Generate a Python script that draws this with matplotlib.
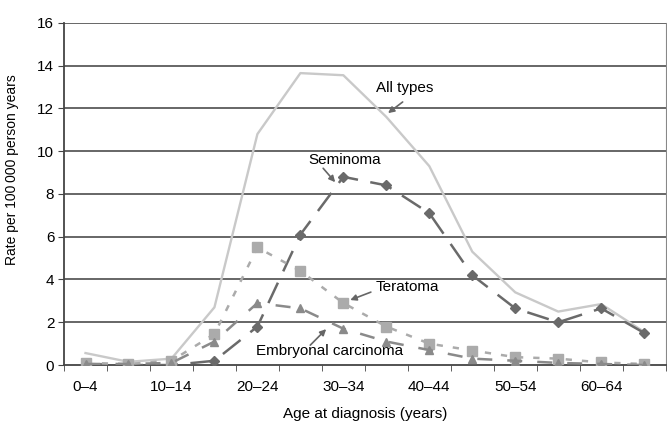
import numpy as np
import matplotlib
matplotlib.use("Agg")
import matplotlib.pyplot as plt

plt.rcParams['font.family'] = ['Liberation Sans', 'DejaVu Sans']

# Data
age_groups = ['0–4', '5–9', '10–14', '15–19', '20–24', '25–29', '30–34',
              '35–39', '40–44', '45–49', '50–54', '55–59', '60–64', '65+']
all_types = [0.56, 0.15, 0.3, 2.7, 10.8, 13.65, 13.55, 11.6, 9.3, 5.3, 3.4, 2.5, 2.85, 1.55]
seminoma = [0.05, 0.0, 0.0, 0.2, 1.8, 6.1, 8.8, 8.4, 7.1, 4.2, 2.65, 2.0, 2.65, 1.5]
teratoma = [0.1, 0.05, 0.2, 1.45, 5.5, 4.4, 2.9, 1.8, 1.0, 0.68, 0.37, 0.3, 0.12, 0.05]
embryonal = [0.05, 0.05, 0.1, 1.1, 2.9, 2.65, 1.7, 1.1, 0.7, 0.3, 0.2, 0.1, 0.05, 0.0]
tick_labels = ['0–4', '10–14', '20–24', '30–34', '40–44', '50–54', '60–64']

x = np.arange(len(age_groups))

fig = plt.figure(figsize=(6.67, 4.23), dpi=100)
ax = fig.add_axes([0.096, 0.137, 0.902, 0.809])

# gridlines
for yv in range(2, 17, 2):
    ax.axhline(yv, color='#5a5a5a', lw=1.3, zorder=1)

ax.plot(x, all_types, color='#c9c9c9', lw=1.7, zorder=3)
ax.plot(x, seminoma, color='#6a6a6a', lw=1.8, dashes=(9, 5),
        marker='D', ms=5, zorder=4)
ax.plot(x, teratoma, color='#ababab', lw=1.8, dashes=(2.5, 4),
        marker='s', ms=7, zorder=4)
ax.plot(x, embryonal, color='#8a8a8a', lw=1.8, dashes=(6, 6),
        marker='^', ms=6, zorder=4)

ax.set_xlim(-0.5, 13.45)
ax.set_ylim(0, 16)
ax.set_yticks(range(0, 17, 2))
ax.set_xticks(x[::2])
ax.set_xticklabels(tick_labels)
ax.set_xticks(np.arange(-0.5, 14, 1), minor=True)
ax.tick_params(axis='x', which='major', length=0, labelsize=11, pad=11)
ax.tick_params(axis='x', which='minor', length=4, color='#444', direction='out')
ax.tick_params(axis='y', length=4, labelsize=11, color='#444', pad=3)

ax.spines['top'].set_visible(False)
ax.spines['right'].set_color('#888')
ax.spines['left'].set_color('#444')
ax.spines['bottom'].set_color('#444')
ax.spines['left'].set_linewidth(1.3)
ax.spines['bottom'].set_linewidth(1.3)

ax.set_ylabel('Rate per 100\u2009000 person years', fontsize=10)
ax.yaxis.set_label_coords(-0.075, 0.57)
ax.set_xlabel('Age at diagnosis (years)', fontsize=11, labelpad=9)

# labels with arrows
arrow = dict(arrowstyle='-|>', color='#666', lw=1.2, mutation_scale=9,
             shrinkA=0, shrinkB=0)
ax.text(7.43, 12.94, 'All types', fontsize=11, ha='center', va='center')
ax.annotate('', xy=(7.04, 11.78), xytext=(7.38, 12.3), arrowprops=arrow)
ax.text(6.02, 9.58, 'Seminoma', fontsize=11, ha='center', va='center')
ax.annotate('', xy=(5.81, 8.55), xytext=(5.53, 9.2), arrowprops=arrow)
ax.text(7.48, 3.64, 'Teratoma', fontsize=11, ha='center', va='center')
ax.annotate('', xy=(6.16, 3.04), xytext=(6.64, 3.41), arrowprops=arrow)
ax.text(5.67, 0.65, 'Embryonal carcinoma', fontsize=11, ha='center', va='center')
ax.annotate('', xy=(5.6, 1.68), xytext=(5.23, 0.93), arrowprops=arrow)

fig.savefig('out.png', dpi=100)
